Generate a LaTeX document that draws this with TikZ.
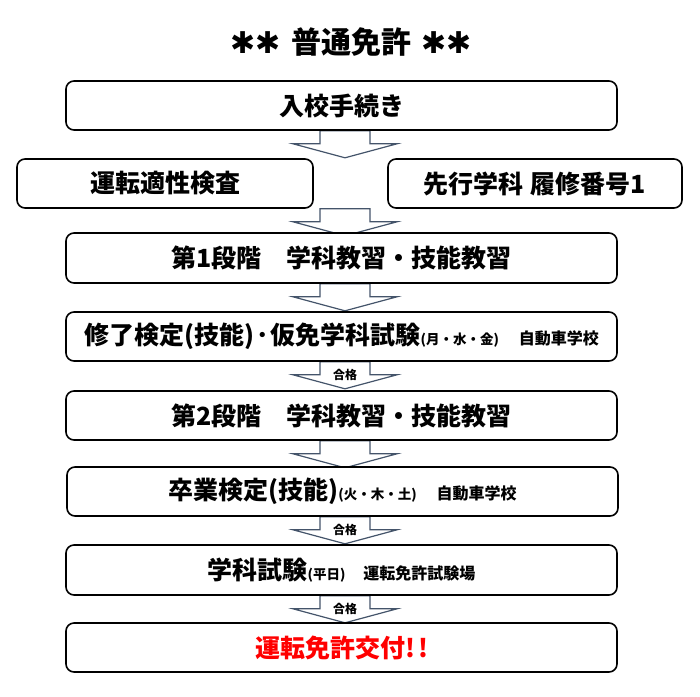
\documentclass[tikz,border=0pt]{standalone}
\usepackage{fontspec}
\setmainfont{Noto Sans CJK JP}
\newfontfamily\symfont{DejaVu Sans}
\usetikzlibrary{calc}
\definecolor{arrowc}{HTML}{44546A}
\definecolor{redc}{HTML}{FF0000}
\pgfdeclarelayer{bg}
\pgfsetlayers{bg,main}
\newcommand\smtext[1]{{\fontsize{13.5}{16}\selectfont #1}}
\newcommand\midtext[1]{{\fontsize{16}{19}\selectfont #1}}
\tikzset{
  box/.style={draw=black, line width=1.6pt, rounded corners=8pt, fill=white,
    inner sep=0pt, minimum width=551pt, minimum height=49pt,
    font=\bfseries\fontsize{25}{30}\selectfont},
  barrow/.style={draw=arrowc, line width=1.2pt, fill=white, line join=miter},
  pass/.style={font=\bfseries\fontsize{12}{14}\selectfont, inner sep=0pt},
  titlestyle/.style={font=\bfseries\fontsize{30}{36}\selectfont, inner sep=0pt}
}
\newcommand\blockarrow[1]{%
  \begin{pgfonlayer}{bg}
  \path[barrow] (#1.south -| ax) ++(-25,0) -- ++(0,13) -- ++(-27,0) -- ++(52,14)
     -- ++(52,-14) -- ++(-27,0) -- ++(0,-13) -- cycle;
  \end{pgfonlayer}}
\begin{document}
\begin{tikzpicture}[x=1pt, y=-1pt]
\useasboundingbox (0,0) rectangle (700,696);
\coordinate (ax) at (345,0);
\node[titlestyle] (title) at (351,42) {{\symfont\mdseries ✱✱}\hspace{10pt}普通免許\hspace{10pt}{\symfont\mdseries ✱✱}};

\node[box] (b1) at (341.5,105.5) {入校手続き};
\node[box, minimum width=296pt] (b2l) at (165,183.5) {運転適性検査};
\node[box, minimum width=294pt] (b2r) at (535,183.5) {先行学科\hspace{7pt}履修番号1};
\node[box, minimum height=50pt] (b3) at (341.5,258) {第1段階　学科教習・技能教習};
\node[box] (b4) at (341.5,336.5) {修了検定(技能)\kern2pt･\kern2pt仮免学科試験\smtext{(月・水・金)}\hspace{20pt}\midtext{自動車学校}};
\node[box] (b5) at (341.5,415.5) {第2段階　学科教習・技能教習};
\node[box] (b6) at (342.5,491.5) {卒業検定(技能)\smtext{(火・木・土)}\hspace{20pt}\midtext{自動車学校}};
\node[box, minimum height=50pt] (b7) at (341.5,570) {学科試験\smtext{(平日)}\hspace{18pt}\midtext{運転免許試験場}};
\node[box] (b8) at (341.5,647.5) {\textcolor{redc}{運転免許交付!\hspace{3pt}!}};

\blockarrow{b1}
\blockarrow{b2l}
\blockarrow{b3}
\blockarrow{b4}
\blockarrow{b5}
\blockarrow{b6}
\blockarrow{b7}

\node[pass] (p4) at ($(b4.south -| ax)+(0,13.5)$) {合格};
\node[pass] (p6) at ($(b6.south -| ax)+(0,13.5)$) {合格};
\node[pass] (p7) at ($(b7.south -| ax)+(0,13.5)$) {合格};
\end{tikzpicture}
\end{document}
